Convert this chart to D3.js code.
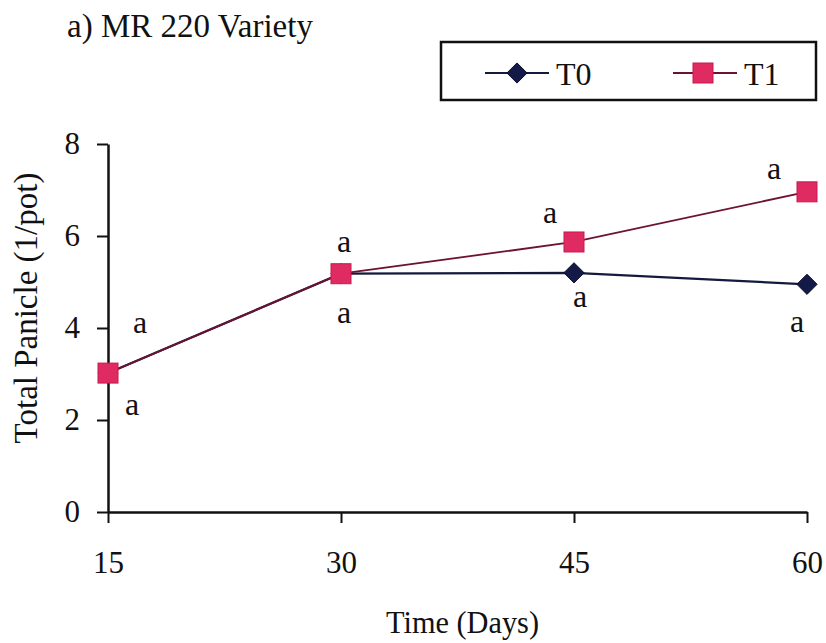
<!DOCTYPE html>
<html>
<head>
<meta charset="utf-8">
<script src="https://cdn.jsdelivr.net/npm/d3@7"></script>
</head>
<body style="margin:0;background:#fff">
<svg id="chart" width="826" height="643"></svg>
<script>
const days = [15, 30, 45, 60];
const t0 = [3.02, 5.18, 5.2, 4.95];
const t1 = [3.02, 5.18, 5.87, 6.96];
const sigT0 = ["a", "a", "a", "a"];
const sigT1 = ["a", "a", "a", "a"];
const yTicks = [0, 2, 4, 6, 8];

const serif = "'Liberation Serif'";
const svg = d3.select("#chart");

// plot area
const x = d3.scaleLinear().domain([15, 60]).range([108, 807]);
const y = d3.scaleLinear().domain([0, 8]).range([512, 144]);

function label(sel, size) {
    return sel.style("font-family", serif).style("font-size", size + "px").attr("fill", "#111");
}

// title
label(svg.append("text"), 33)
    .attr("x", 67).attr("y", 37)
    .text("a) MR 220 Variety");

// axes
svg.append("g")
    .attr("transform", "translate(0,512)")
    .call(d3.axisBottom(x).tickValues(days).tickSize(11).tickPadding(28).tickSizeOuter(0))
    .call(function (g) {
        g.attr("font-family", null).attr("font-size", null);
        g.select(".domain").attr("stroke", "#111").attr("stroke-width", 2.5);
        g.selectAll(".tick line").attr("stroke", "#111").attr("stroke-width", 2);
        label(g.selectAll(".tick text"), 31);
    });

svg.append("g")
    .attr("transform", "translate(108,0)")
    .call(d3.axisLeft(y).tickValues(yTicks).tickSize(11).tickPadding(17).tickSizeOuter(0))
    .call(function (g) {
        g.attr("font-family", null).attr("font-size", null);
        g.select(".domain").attr("stroke", "#111").attr("stroke-width", 2.5);
        g.selectAll(".tick line").attr("stroke", "#111").attr("stroke-width", 2);
        label(g.selectAll(".tick text"), 31);
    });

// axis titles
label(svg.append("text"), 33)
    .attr("transform", "translate(37,308) rotate(-90)")
    .attr("text-anchor", "middle")
    .text("Total Panicle (1/pot)");

label(svg.append("text"), 32)
    .attr("x", 386).attr("y", 633)
    .attr("textLength", 153)
    .attr("lengthAdjust", "spacingAndGlyphs")
    .text("Time (Days)");

const line = d3.line()
    .x(function (d) { return x(d.day); })
    .y(function (d) { return y(d.v); });

const s0 = days.map(function (d, i) { return {day: d, v: t0[i], sig: sigT0[i]}; });
const s1 = days.map(function (d, i) { return {day: d, v: t1[i], sig: sigT1[i]}; });

// T0 series
svg.append("path")
    .datum(s0)
    .attr("fill", "none")
    .attr("stroke", "#141a3c")
    .attr("stroke-width", 2.2)
    .attr("d", line);

// T1 series
svg.append("path")
    .datum(s1)
    .attr("fill", "none")
    .attr("stroke", "#6e1232")
    .attr("stroke-width", 1.8)
    .attr("d", line);

const diamond = d3.symbol().type(d3.symbolDiamond2).size(260);

svg.append("g").selectAll("path")
    .data(s0)
    .enter()
    .append("path")
    .attr("transform", function (d) { return "translate(" + x(d.day) + "," + y(d.v) + ")"; })
    .attr("d", diamond)
    .attr("fill", "#141a48")
    .attr("stroke", "#0a0d26")
    .attr("stroke-width", 1);

svg.append("g").selectAll("rect")
    .data(s1)
    .enter()
    .append("rect")
    .attr("x", function (d) { return x(d.day) - 10; })
    .attr("y", function (d) { return y(d.v) - 10; })
    .attr("width", 20)
    .attr("height", 20)
    .attr("fill", "#e02a62")
    .attr("stroke", "#c81a50")
    .attr("stroke-width", 1);

// significance letters (offset from each point, in px)
const offT0 = [[24, 42], [3, 49], [6, 34], [-10, 48]];
const offT1 = [[32, -40], [3, -22], [-24, -19], [-33, -13]];

label(svg.append("g").selectAll("text")
    .data(s0)
    .enter()
    .append("text"), 32)
    .attr("x", function (d, i) { return x(d.day) + offT0[i][0]; })
    .attr("y", function (d, i) { return y(d.v) + offT0[i][1]; })
    .attr("text-anchor", "middle")
    .text(function (d) { return d.sig; });

label(svg.append("g").selectAll("text")
    .data(s1)
    .enter()
    .append("text"), 32)
    .attr("x", function (d, i) { return x(d.day) + offT1[i][0]; })
    .attr("y", function (d, i) { return y(d.v) + offT1[i][1]; })
    .attr("text-anchor", "middle")
    .text(function (d) { return d.sig; });

// legend
const legend = svg.append("g");
legend.append("rect")
    .attr("x", 441).attr("y", 42)
    .attr("width", 375).attr("height", 58)
    .attr("fill", "#fff")
    .attr("stroke", "#111")
    .attr("stroke-width", 2.5);

const items = [
    {name: "T0", x: 485, color: "#141a3c", width: 2.2},
    {name: "T1", x: 673, color: "#6e1232", width: 1.8}
];

const li = legend.selectAll("g.item")
    .data(items)
    .enter()
    .append("g")
    .attr("class", "item")
    .attr("transform", function (d) { return "translate(" + d.x + ",73)"; });

li.append("line")
    .attr("x1", 0).attr("x2", 64)
    .attr("stroke", function (d) { return d.color; })
    .attr("stroke-width", function (d) { return d.width; });

li.filter(function (d) { return d.name === "T0"; })
    .append("path")
    .attr("transform", "translate(32,0)")
    .attr("d", diamond)
    .attr("fill", "#141a48")
    .attr("stroke", "#0a0d26");

li.filter(function (d) { return d.name === "T1"; })
    .append("rect")
    .attr("x", 20).attr("y", -10)
    .attr("width", 20).attr("height", 20)
    .attr("fill", "#e02a62")
    .attr("stroke", "#c81a50");

label(li.append("text"), 32)
    .attr("x", 71).attr("y", 12)
    .text(function (d) { return d.name; });
</script>
</body>
</html>
